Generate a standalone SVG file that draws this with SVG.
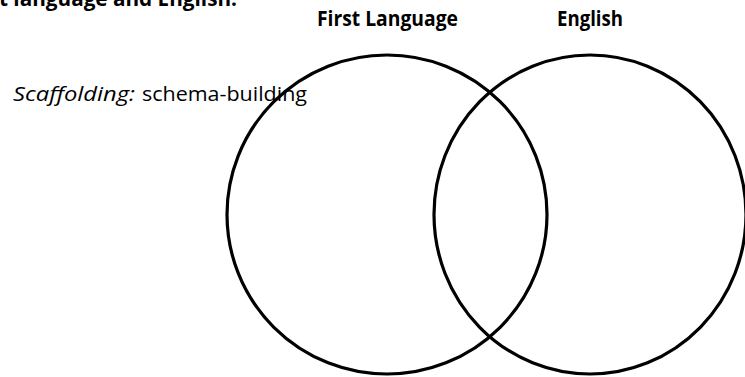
<svg xmlns="http://www.w3.org/2000/svg" width="745" height="377" viewBox="0 0 745 377">
  <style>
    .bg { fill: #ffffff; }
    .ring { fill: none; stroke: #000000; stroke-width: 3.2; }
    .lbl { font-family: "Open Sans", "Noto Sans", "Liberation Sans", sans-serif; font-size: 20.5px; font-weight: 700; fill: #000000; }
    .body { font-family: "Open Sans", "Noto Sans", "Liberation Sans", sans-serif; font-size: 20.5px; fill: #000000; }
    .it { font-style: italic; }
  </style>
  <rect class="bg" x="0" y="0" width="745" height="377"/>
  <g id="heading">
    <text class="lbl" x="-1" y="6" textLength="238" lengthAdjust="spacingAndGlyphs">t language and English:</text>
  </g>
  <g id="scaffolding">
    <text class="body it" x="13" y="101" textLength="122" lengthAdjust="spacingAndGlyphs">Scaffolding:</text>
    <text class="body" x="142" y="101" textLength="165" lengthAdjust="spacingAndGlyphs">schema-building</text>
  </g>
  <g id="first-language">
    <ellipse class="ring" cx="387" cy="214.5" rx="160" ry="159.5"/>
    <text class="lbl" x="317" y="26" textLength="141" lengthAdjust="spacingAndGlyphs">First Language</text>
  </g>
  <g id="english">
    <ellipse class="ring" cx="590" cy="214.5" rx="156" ry="159.5"/>
    <text class="lbl" x="557" y="26" textLength="66" lengthAdjust="spacingAndGlyphs">English</text>
  </g>
</svg>
